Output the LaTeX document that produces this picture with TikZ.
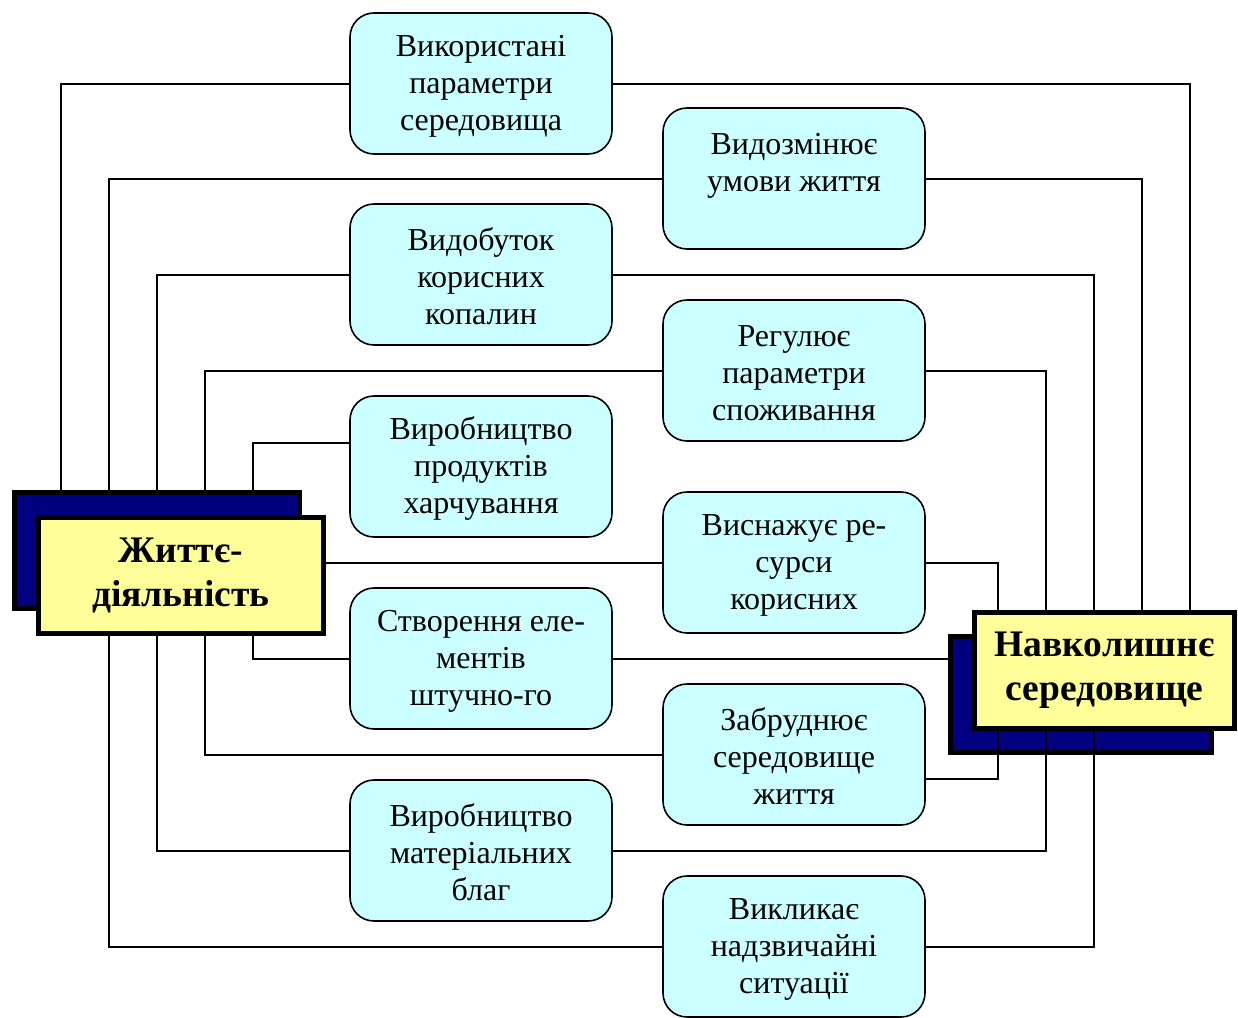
\documentclass[tikz,border=0pt]{standalone}
\usepackage{fontspec}
\setmainfont{Liberation Serif}
\usetikzlibrary{calc}
\definecolor{boxcyan}{HTML}{CCFFFF}
\definecolor{bigyellow}{HTML}{FFFF99}
\definecolor{navyblue}{HTML}{000080}
\pgfdeclarelayer{shadowlayer}
\pgfdeclarelayer{connlayer}
\pgfsetlayers{shadowlayer,connlayer,main}
\begin{document}
\begin{tikzpicture}[x=1pt,y=-1pt,
  item/.style={draw=black, line width=1.6pt, fill=boxcyan, rounded corners=24pt,
    minimum width=262pt, minimum height=141pt, align=center, inner sep=0pt,
    font=\fontsize{32}{37}\selectfont},
  conn/.style={draw=black, line width=2pt},
  front/.style={draw=black, line width=5pt, fill=bigyellow, align=center, inner sep=0pt,
    font=\fontsize{37.5}{44}\selectfont\bfseries},
  backbox/.style={draw=black, line width=5pt, fill=navyblue}]
\useasboundingbox (0,0) rectangle (1238,1017);

% big boxes
\begin{pgfonlayer}{shadowlayer}
\node[backbox, minimum width=285pt, minimum height=116pt] (LS) at (157,550.5) {};
\node[backbox, minimum width=261pt, minimum height=116pt] (RS) at (1081,694.5) {};
\end{pgfonlayer}
\node[front, minimum width=285pt, minimum height=116pt] (LY) at (181,575) {Життє-\\діяльність};
\node[front, minimum width=260pt, minimum height=116pt] (RY) at (1104.5,670.5) {Навколишнє\\середовище};

% small boxes
\node[item] (b1) at (481,83.5) {\strut Використані\\параметри\\середовища};
\node[item] (b2) at (794,178.5) {\strut Видозмінює\\умови життя\\\mbox{}};
\node[item] (b3) at (481,274.5) {\strut Видобуток\\корисних\\копалин};
\node[item] (b4) at (794,370.5) {\strut Регулює\\параметри\\споживання};
\node[item] (b5) at (481,466.5) {\strut Виробництво\\продуктів\\харчування};
\node[item] (b6) at (794,562.5) {\strut Виснажує ре-\\сурси\\корисних};
\node[item] (b7) at (481,658.5) {\strut Створення еле-\\ментів\\штучно-го};
\node[item] (b8) at (794,754.5) {\strut Забруднює\\середовище\\життя};
\node[item] (b9) at (481,850.5) {\strut Виробництво\\матеріальних\\благ};
\node[item] (b10) at (794,946.5) {\strut Викликає\\надзвичайні\\ситуації};

% vertical tracks
\coordinate (xa) at (61,0);
\coordinate (xb) at (109,0);
\coordinate (xc) at (157,0);
\coordinate (xd) at (205,0);
\coordinate (xe) at (253,0);
\coordinate (xf) at (998,0);
\coordinate (xg) at (1046,0);
\coordinate (xh) at (1094,0);
\coordinate (xi) at (1142,0);
\coordinate (xj) at (1190,0);

\begin{pgfonlayer}{connlayer}
% left side
\draw[conn] (b1.west) -| (xa |- LS.north);
\draw[conn] (b2.west) -| (xb |- LS.north);
\draw[conn] (b3.west) -| (xc |- LS.north);
\draw[conn] (b4.west) -| (xd |- LS.north);
\draw[conn] ([yshift=23.5pt]b5.west) -| (xe |- LS.north);
\draw[conn] (b6.west) -- (b6.west -| LY.east);
\draw[conn] (b7.west) -| (xe |- LY.south);
\draw[conn] (b8.west) -| (xd |- LY.south);
\draw[conn] (b9.west) -| (xc |- LY.south);
\draw[conn] (b10.west) -| (xb |- LY.south);
% right side
\draw[conn] (b1.east) -| (xj |- RY.north);
\draw[conn] (b2.east) -| (xi |- RY.north);
\draw[conn] (b3.east) -| (xh |- RY.north);
\draw[conn] (b4.east) -| (xg |- RY.north);
\draw[conn] (b6.east) -| (xf |- RY.north);
\draw[conn] (b7.east) -- (b7.east -| RS.west);
\draw[conn] ([yshift=-24.5pt]b8.east) -| (xf |- RY.south);
\draw[conn] (b9.east) -| (xg |- RY.south);
\draw[conn] (b10.east) -| (xh |- RY.south);
\end{pgfonlayer}
\end{tikzpicture}
\end{document}
